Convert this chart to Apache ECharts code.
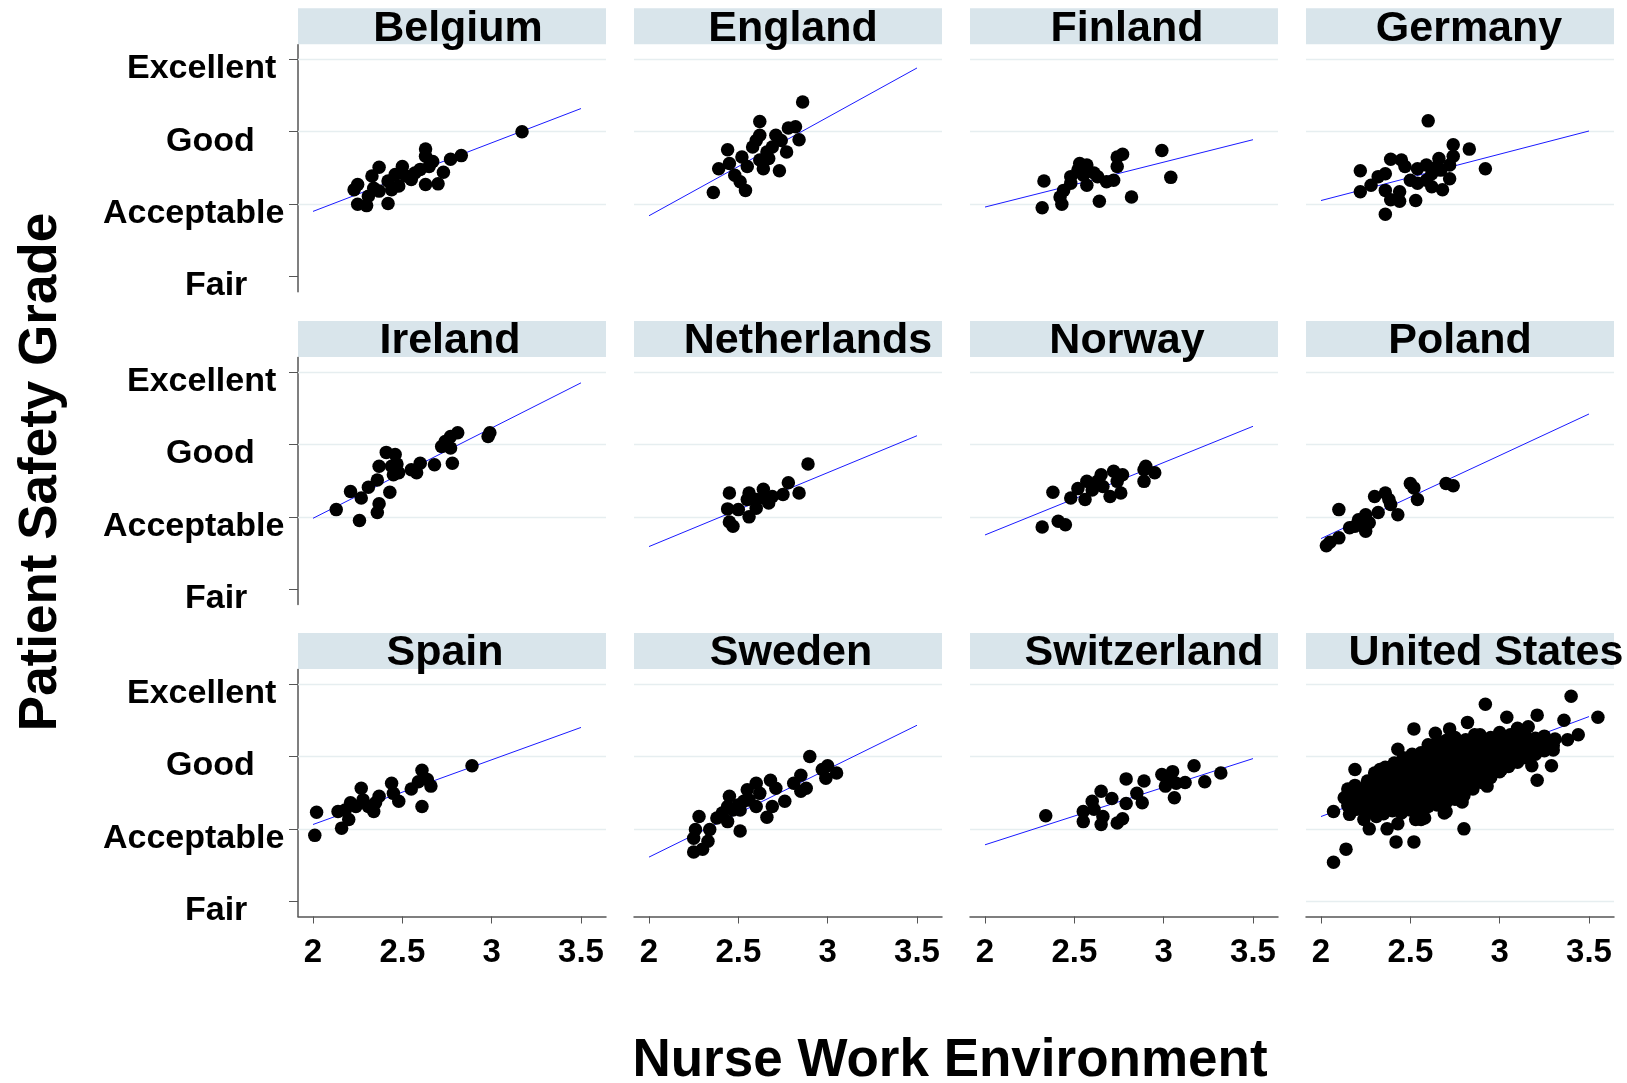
<!DOCTYPE html>
<html>
<head>
<meta charset="utf-8">
<script src="https://cdn.jsdelivr.net/npm/echarts@6/dist/echarts.min.js"></script>
<style>
html,body{margin:0;padding:0;background:#fff;}
#chart{width:1627px;height:1083px;}
</style>
</head>
<body>
<div id="chart"></div>
<script>
// ---------------- DATA ----------------
const countries = ['Belgium','England','Finland','Germany','Ireland','Netherlands','Norway','Poland','Spain','Sweden','Switzerland','United States'];
const xTickValues = [2, 2.5, 3, 3.5];
const yTickValues = [1, 2, 3, 4];
const yTickLabels = ['Fair', 'Acceptable', 'Good', 'Excellent'];
const xTitle = 'Nurse Work Environment';
const yTitle = 'Patient Safety Grade';

// fitted line end points (at x = 2 and x = 3.5)
const fitX = [2, 3.5];
const fitStartY = [1.90, 1.84, 1.96, 2.05, 1.98, 1.59, 1.75, 1.70, 2.06, 1.61, 1.78, 2.17];
const fitEndY   = [3.32, 3.88, 2.89, 3.01, 3.85, 3.12, 3.25, 3.42, 3.40, 3.43, 2.97, 3.55];

const belgium = [[3.17,3.00],[2.83,2.67],[2.77,2.62],[2.63,2.76],[2.63,2.66],[2.67,2.59],[2.73,2.44],[2.70,2.28],[2.63,2.27],[2.57,2.43],[2.50,2.52],[2.46,2.41],[2.48,2.25],[2.42,2.32],[2.37,2.51],[2.33,2.39],[2.34,2.22],[2.31,2.11],[2.25,2.00],[2.30,1.98],[2.42,2.01],[2.23,2.20],[2.25,2.27],[2.37,2.18],[2.55,2.34],[2.60,2.48],[2.52,2.39],[2.44,2.20],[2.65,2.52]];
const england = [[2.86,3.41],[2.62,3.14],[2.62,2.95],[2.71,2.95],[2.78,3.05],[2.82,3.07],[2.84,2.89],[2.77,2.72],[2.73,2.46],[2.64,2.49],[2.58,2.79],[2.66,2.72],[2.69,2.79],[2.44,2.75],[2.52,2.65],[2.45,2.56],[2.39,2.49],[2.48,2.40],[2.51,2.31],[2.54,2.19],[2.36,2.16],[2.62,2.61],[2.55,2.52],[2.67,2.63],[2.60,2.88],[2.74,2.88]];
const finland = [[2.99,2.74],[3.04,2.37],[2.82,2.10],[2.77,2.69],[2.74,2.65],[2.74,2.52],[2.72,2.33],[2.68,2.31],[2.64,2.04],[2.57,2.54],[2.55,2.40],[2.57,2.26],[2.61,2.43],[2.52,2.47],[2.48,2.38],[2.48,2.29],[2.44,2.19],[2.42,2.10],[2.43,2.00],[2.33,2.32],[2.32,1.95],[2.53,2.56],[2.63,2.38]];
const germany = [[2.60,3.15],[2.74,2.82],[2.83,2.76],[2.74,2.66],[2.92,2.49],[2.66,2.63],[2.72,2.54],[2.72,2.35],[2.67,2.47],[2.62,2.42],[2.59,2.54],[2.54,2.49],[2.47,2.52],[2.45,2.61],[2.39,2.62],[2.22,2.46],[2.32,2.38],[2.36,2.42],[2.28,2.26],[2.22,2.17],[2.36,2.19],[2.44,2.17],[2.39,2.06],[2.44,2.04],[2.53,2.05],[2.36,1.86],[2.54,2.29],[2.62,2.24],[2.68,2.20],[2.59,2.33],[2.50,2.33],[2.65,2.52]];
const ireland = [[2.99,3.16],[2.98,3.11],[2.81,3.16],[2.77,3.11],[2.74,3.04],[2.72,2.97],[2.77,2.95],[2.78,2.74],[2.68,2.72],[2.60,2.74],[2.58,2.61],[2.55,2.65],[2.46,2.86],[2.41,2.89],[2.47,2.73],[2.45,2.58],[2.48,2.61],[2.37,2.70],[2.36,2.51],[2.31,2.41],[2.43,2.34],[2.37,2.18],[2.36,2.06],[2.27,2.26],[2.21,2.35],[2.13,2.10],[2.26,1.95],[2.44,2.70]];
const netherlands = [[2.89,2.73],[2.78,2.47],[2.84,2.33],[2.75,2.31],[2.69,2.28],[2.64,2.38],[2.64,2.26],[2.67,2.19],[2.60,2.24],[2.56,2.33],[2.60,2.12],[2.56,2.00],[2.50,2.10],[2.45,2.33],[2.44,2.11],[2.45,1.93],[2.47,1.87],[2.55,2.24]];
const norway = [[2.32,1.86],[2.41,1.94],[2.45,1.89],[2.38,2.34],[2.48,2.26],[2.52,2.39],[2.57,2.49],[2.56,2.24],[2.60,2.37],[2.65,2.58],[2.66,2.42],[2.70,2.28],[2.72,2.63],[2.76,2.33],[2.77,2.58],[2.74,2.49],[2.89,2.49],[2.90,2.70],[2.95,2.61],[2.89,2.65],[2.63,2.49]];
const poland = [[2.03,1.60],[2.05,1.65],[2.10,1.71],[2.10,2.10],[2.16,1.85],[2.21,1.96],[2.25,2.03],[2.23,1.89],[2.25,1.80],[2.27,1.92],[2.30,2.28],[2.36,2.33],[2.39,2.17],[2.43,2.03],[2.38,2.24],[2.50,2.46],[2.52,2.40],[2.54,2.24],[2.70,2.46],[2.74,2.43],[2.32,2.06],[2.19,1.87]];
const spain = [[2.89,2.87],[2.61,2.81],[2.64,2.68],[2.66,2.59],[2.59,2.65],[2.61,2.31],[2.55,2.55],[2.44,2.63],[2.48,2.38],[2.45,2.49],[2.37,2.45],[2.34,2.24],[2.35,2.36],[2.27,2.56],[2.28,2.40],[2.24,2.31],[2.21,2.36],[2.18,2.26],[2.20,2.13],[2.14,2.24],[2.16,2.01],[2.02,2.23],[2.01,1.91],[2.31,2.31]];
const sweden = [[2.90,3.00],[3.00,2.87],[2.97,2.82],[3.05,2.77],[2.99,2.70],[2.85,2.74],[2.81,2.63],[2.88,2.56],[2.85,2.52],[2.68,2.67],[2.71,2.56],[2.76,2.38],[2.69,2.31],[2.66,2.16],[2.62,2.49],[2.55,2.54],[2.56,2.40],[2.51,2.26],[2.51,1.97],[2.45,2.45],[2.44,2.31],[2.41,2.22],[2.38,2.15],[2.44,2.10],[2.34,1.99],[2.28,2.17],[2.26,1.99],[2.25,1.87],[2.33,1.83],[2.30,1.72],[2.25,1.68],[2.60,2.31],[2.53,2.38],[2.47,2.26],[2.60,2.63],[2.50,2.33]];
const switzerland = [[2.34,2.18],[2.55,2.24],[2.55,2.10],[2.60,2.38],[2.61,2.27],[2.65,2.52],[2.65,2.06],[2.66,2.17],[2.71,2.42],[2.74,2.08],[2.77,2.14],[2.79,2.69],[2.79,2.35],[2.85,2.49],[2.88,2.36],[2.89,2.66],[2.99,2.75],[3.03,2.70],[3.05,2.79],[3.07,2.63],[3.06,2.43],[3.12,2.64],[3.17,2.87],[3.23,2.65],[3.32,2.77],[3.01,2.59]];
const unitedStatesOuter = [[3.40,3.83],[3.55,3.54],[2.92,3.72],[3.04,3.54],[3.21,3.57],[3.36,3.50],[3.44,3.30],[3.38,3.23],[3.30,3.09],[3.29,2.87],[3.18,2.87],[3.21,2.67],[2.52,3.38],[2.19,2.82],[2.07,2.24],[2.07,1.54],[2.14,1.72],[2.42,1.82],[2.52,1.82],[2.80,2.00],[2.27,2.00],[2.37,2.00],[2.43,2.07],[2.16,2.20],[2.13,2.43],[2.31,2.17],[2.58,2.15],[2.70,2.24],[2.79,2.37],[2.93,2.59],[3.01,2.82],[2.82,3.47],[2.64,3.32],[2.72,3.38],[2.30,2.70],[2.33,2.82],[2.43,3.10],[3.10,3.39],[3.16,3.41],[3.24,3.25],[2.53,2.13],[2.24,2.13],[2.56,2.13],[2.69,2.22]];
const unitedStatesCore = [
[2.15,2.32],[2.16,2.44],[2.15,2.55],
[2.20,2.27],[2.21,2.38],[2.20,2.49],[2.19,2.60],
[2.25,2.22],[2.26,2.33],[2.25,2.44],[2.24,2.55],[2.26,2.66],
[2.30,2.24],[2.31,2.35],[2.29,2.46],[2.30,2.57],[2.31,2.68],[2.30,2.77],
[2.35,2.21],[2.36,2.31],[2.35,2.42],[2.34,2.53],[2.36,2.64],[2.35,2.75],[2.36,2.85],
[2.40,2.25],[2.41,2.36],[2.40,2.47],[2.39,2.58],[2.41,2.69],[2.40,2.80],[2.41,2.91],
[2.45,2.22],[2.46,2.33],[2.45,2.44],[2.44,2.55],[2.46,2.66],[2.45,2.77],[2.44,2.88],[2.46,2.98],
[2.50,2.26],[2.51,2.37],[2.50,2.48],[2.49,2.59],[2.51,2.70],[2.50,2.81],[2.49,2.92],[2.51,3.03],
[2.55,2.28],[2.56,2.39],[2.55,2.50],[2.54,2.61],[2.56,2.72],[2.55,2.83],[2.54,2.94],[2.56,3.05],
[2.60,2.31],[2.61,2.42],[2.60,2.53],[2.59,2.64],[2.61,2.75],[2.60,2.86],[2.59,2.97],[2.61,3.08],[2.60,3.16],
[2.65,2.33],[2.66,2.44],[2.65,2.55],[2.64,2.66],[2.66,2.77],[2.65,2.88],[2.64,2.99],[2.66,3.10],[2.65,3.20],
[2.70,2.36],[2.71,2.47],[2.70,2.58],[2.69,2.69],[2.71,2.80],[2.70,2.91],[2.69,3.02],[2.71,3.13],[2.70,3.22],
[2.75,2.41],[2.76,2.52],[2.75,2.63],[2.74,2.74],[2.76,2.85],[2.75,2.96],[2.74,3.07],[2.76,3.18],[2.75,3.26],
[2.80,2.46],[2.81,2.57],[2.80,2.68],[2.79,2.79],[2.81,2.90],[2.80,3.01],[2.79,3.12],[2.81,3.23],
[2.85,2.55],[2.86,2.66],[2.85,2.77],[2.84,2.88],[2.86,2.99],[2.85,3.10],[2.84,3.21],[2.86,3.30],
[2.90,2.64],[2.91,2.75],[2.90,2.86],[2.89,2.97],[2.91,3.08],[2.90,3.19],[2.89,3.30],
[2.95,2.71],[2.96,2.82],[2.95,2.93],[2.94,3.04],[2.96,3.15],[2.95,3.26],
[3.00,2.79],[3.01,2.90],[3.00,3.01],[2.99,3.12],[3.01,3.23],[3.00,3.33],
[3.05,2.86],[3.06,2.97],[3.05,3.08],[3.04,3.19],[3.06,3.30],
[3.10,2.92],[3.11,3.03],[3.10,3.14],[3.09,3.25],[3.11,3.34],
[3.15,2.98],[3.16,3.09],[3.15,3.20],[3.14,3.31],
[3.20,3.03],[3.21,3.14],[3.20,3.25],
[3.25,3.08],[3.26,3.19],[3.25,3.28],
[3.30,3.15],[3.31,3.24]
];
const unitedStates = unitedStatesOuter.concat(unitedStatesCore);

const pointsByCountry = [belgium, england, finland, germany, ireland, netherlands, norway, poland, spain, sweden, switzerland, unitedStates];

// ---------------- LAYOUT / STYLE ----------------
const FONT = '"Liberation Sans", Arial, Helvetica, sans-serif';
const colLeft = [298, 634, 970, 1306];
const rowTop = [44.8, 357.5, 669.5];
const W = 308, H = 247;
const X_MIN = 1.916, X_MAX = 3.640, Y_MIN = 0.79, Y_MAX = 4.2;
const stripColor = '#d9e5eb';
const gridColor = '#e6eef0';
const axisColor = '#555555';
const titleDx = [6, 5, 3, 9, -2, 20, 3, 0, -7, 3, 20, 26];
const labelPadLeft = [82, 0, 63, 24]; // Fair, Acceptable, Good, Excellent

const grids = [], xAxes = [], yAxes = [], series = [], graphics = [];

const yRich = {};
yTickLabels.forEach((t, k) => {
  yRich['k' + k] = {fontSize: 34, fontWeight: 'bold', fontFamily: FONT, color: '#000', padding: [19, 0, 0, labelPadLeft[k]]};
});

countries.forEach((name, i) => {
  const r = Math.floor(i / 4), c = i % 4;
  grids.push({left: colLeft[c], top: rowTop[r], width: W, height: H, containLabel: false});
  xAxes.push({
    gridIndex: i, type: 'value', min: X_MIN, max: X_MAX, show: r === 2,
    axisLine: {show: true, onZero: false, lineStyle: {color: axisColor, width: 1.5}},
    axisTick: {show: true, length: 7, customValues: xTickValues, lineStyle: {color: axisColor, width: 1}},
    axisLabel: {show: true, customValues: xTickValues, fontSize: 33, fontWeight: 'bold', fontFamily: FONT, color: '#000', margin: 20},
    splitLine: {show: false}
  });
  yAxes.push({
    gridIndex: i, type: 'value', min: Y_MIN, max: Y_MAX, show: c === 0,
    axisLine: {show: true, onZero: false, lineStyle: {color: axisColor, width: 1.5}},
    axisTick: {show: true, length: 9, customValues: yTickValues, lineStyle: {color: axisColor, width: 1}},
    axisLabel: {
      show: true, customValues: yTickValues, align: 'left', margin: 195,
      formatter: function (v) {
        const k = yTickValues.indexOf(Math.round(v));
        return k < 0 ? '' : '{k' + k + '|' + yTickLabels[k] + '}';
      },
      rich: yRich
    },
    splitLine: {show: false}
  });
  const gridVals = (i === countries.length - 1) ? [1, 2, 3, 4] : [2, 3, 4];
  series.push({
    type: 'line', xAxisIndex: i, yAxisIndex: i, silent: true, z: 2,
    data: [[fitX[0], fitStartY[i]], [fitX[1], fitEndY[i]]],
    symbol: 'none', lineStyle: {color: '#1a1aff', width: 1}
  });
  series.push({
    type: 'scatter', xAxisIndex: i, yAxisIndex: i, silent: true, z: 1,
    data: [],
    markLine: {
      silent: true, symbol: 'none', label: {show: false}, animation: false, z: 1,
      lineStyle: {color: gridColor, width: 1.3, type: 'solid'},
      data: gridVals.map(v => ({yAxis: v}))
    }
  });
  series.push({
    type: 'scatter', xAxisIndex: i, yAxisIndex: i, silent: true, z: 4,
    data: pointsByCountry[i], symbol: 'circle', symbolSize: 13.5,
    itemStyle: {color: '#000', opacity: 1}
  });
  graphics.push({
    type: 'rect', silent: true,
    shape: {x: colLeft[c], y: rowTop[r] - 36.5, width: W, height: 36},
    style: {fill: stripColor}
  });
  graphics.push({
    type: 'text', silent: true, z: 10,
    x: colLeft[c] + W / 2 + titleDx[i], y: rowTop[r] - 16,
    style: {text: name, font: 'bold 43px ' + FONT, fill: '#000',
            textAlign: 'center', textVerticalAlign: 'middle', align: 'center', verticalAlign: 'middle'}
  });
});

graphics.push({
  type: 'text', silent: true, x: 950, y: 1061,
  style: {text: xTitle, font: 'bold 53px ' + FONT, fill: '#000',
          textAlign: 'center', textVerticalAlign: 'middle', align: 'center', verticalAlign: 'middle'}
});
graphics.push({
  type: 'text', silent: true, x: 41, y: 472, rotation: Math.PI / 2,
  style: {text: yTitle, font: 'bold 53px ' + FONT, fill: '#000',
          textAlign: 'center', textVerticalAlign: 'middle', align: 'center', verticalAlign: 'middle'}
});

const chart = echarts.init(document.getElementById('chart'), null, {renderer: 'canvas'});
chart.setOption({
  backgroundColor: '#ffffff',
  animation: false,
  grid: grids,
  xAxis: xAxes,
  yAxis: yAxes,
  series: series,
  graphic: {elements: graphics}
});
</script>
</body>
</html>
